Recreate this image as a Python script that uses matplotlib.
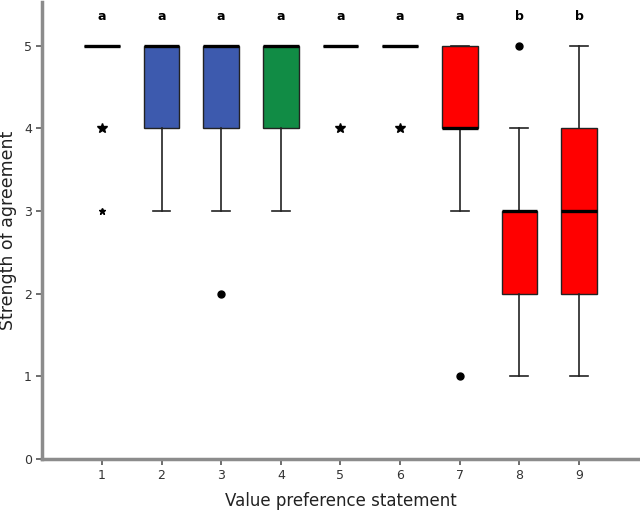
import matplotlib
matplotlib.use("Agg")
import matplotlib.pyplot as plt

# box summary values
statements = [1, 2, 3, 4, 5, 6, 7, 8, 9]
q1 = [5, 4, 4, 4, 5, 5, 4, 2, 2]
medians = [5, 5, 5, 5, 5, 5, 4, 3, 3]
q3 = [5, 5, 5, 5, 5, 5, 5, 3, 4]
whisker_lo = [5, 3, 3, 3, 5, 5, 3, 1, 1]
whisker_hi = [5, 5, 5, 5, 5, 5, 5, 4, 5]
outliers = [[], [], [2], [], [], [], [1], [5], []]
extremes = [[4, 3], [], [], [], [4], [4], [], [], []]
box_colors = ["#3d5aae", "#3d5aae", "#3d5aae", "#118c45", "#3d5aae",
              "#3d5aae", "#ff0000", "#ff0000", "#ff0000"]
groups = ["a", "a", "a", "a", "a", "a", "a", "b", "b"]

fig = plt.figure(figsize=(6.4, 5.12), dpi=100)
ax = fig.add_axes([0.066, 0.1035, 0.932, 0.8925])

stats = []
for i in range(len(statements)):
    stats.append({
        "med": medians[i], "q1": q1[i], "q3": q3[i],
        "whislo": whisker_lo[i], "whishi": whisker_hi[i],
        "fliers": outliers[i],
    })

bp = ax.bxp(stats, positions=statements, widths=0.6, patch_artist=True,
            showfliers=True,
            boxprops=dict(edgecolor="#222222", linewidth=1.0),
            medianprops=dict(color="black", linewidth=2.4),
            whiskerprops=dict(color="#222222", linewidth=1.2),
            capprops=dict(color="#222222", linewidth=1.2),
            capwidths=0.3,
            flierprops=dict(marker="o", markerfacecolor="black",
                            markeredgecolor="black", markersize=5))
for patch, col in zip(bp["boxes"], box_colors):
    patch.set_facecolor(col)

# extreme values drawn as stars
for pos, vals in zip(statements, extremes):
    for k, v in enumerate(vals):
        ax.plot(pos, v, marker="*", color="black", linestyle="none",
                markersize=7 if k == 0 else 5)

# letters above each box
for pos, g in zip(statements, groups):
    ax.text(pos, 5.36, g, ha="center", va="center", fontsize=9,
            fontweight="bold", color="black")

ax.set_xlim(0, 10)
ax.set_ylim(0, 5.53)
ax.set_xticks(statements)
ax.set_xticklabels([str(s) for s in statements])
ax.set_yticks([0, 1, 2, 3, 4, 5])

for side in ["top", "right"]:
    ax.spines[side].set_visible(False)
for side in ["left", "bottom"]:
    ax.spines[side].set_color("#8c8c8c")
    ax.spines[side].set_linewidth(2.5)
ax.tick_params(axis="both", colors="#555555", labelcolor="#333333",
               length=4, width=1.2, labelsize=9)

ax.set_xlabel("Value preference statement", fontsize=12, color="#222222",
              labelpad=7)
ax.set_ylabel("Strength of agreement", fontsize=12.5, color="#222222",
              labelpad=5)

fig.savefig("out.png", dpi=100)
